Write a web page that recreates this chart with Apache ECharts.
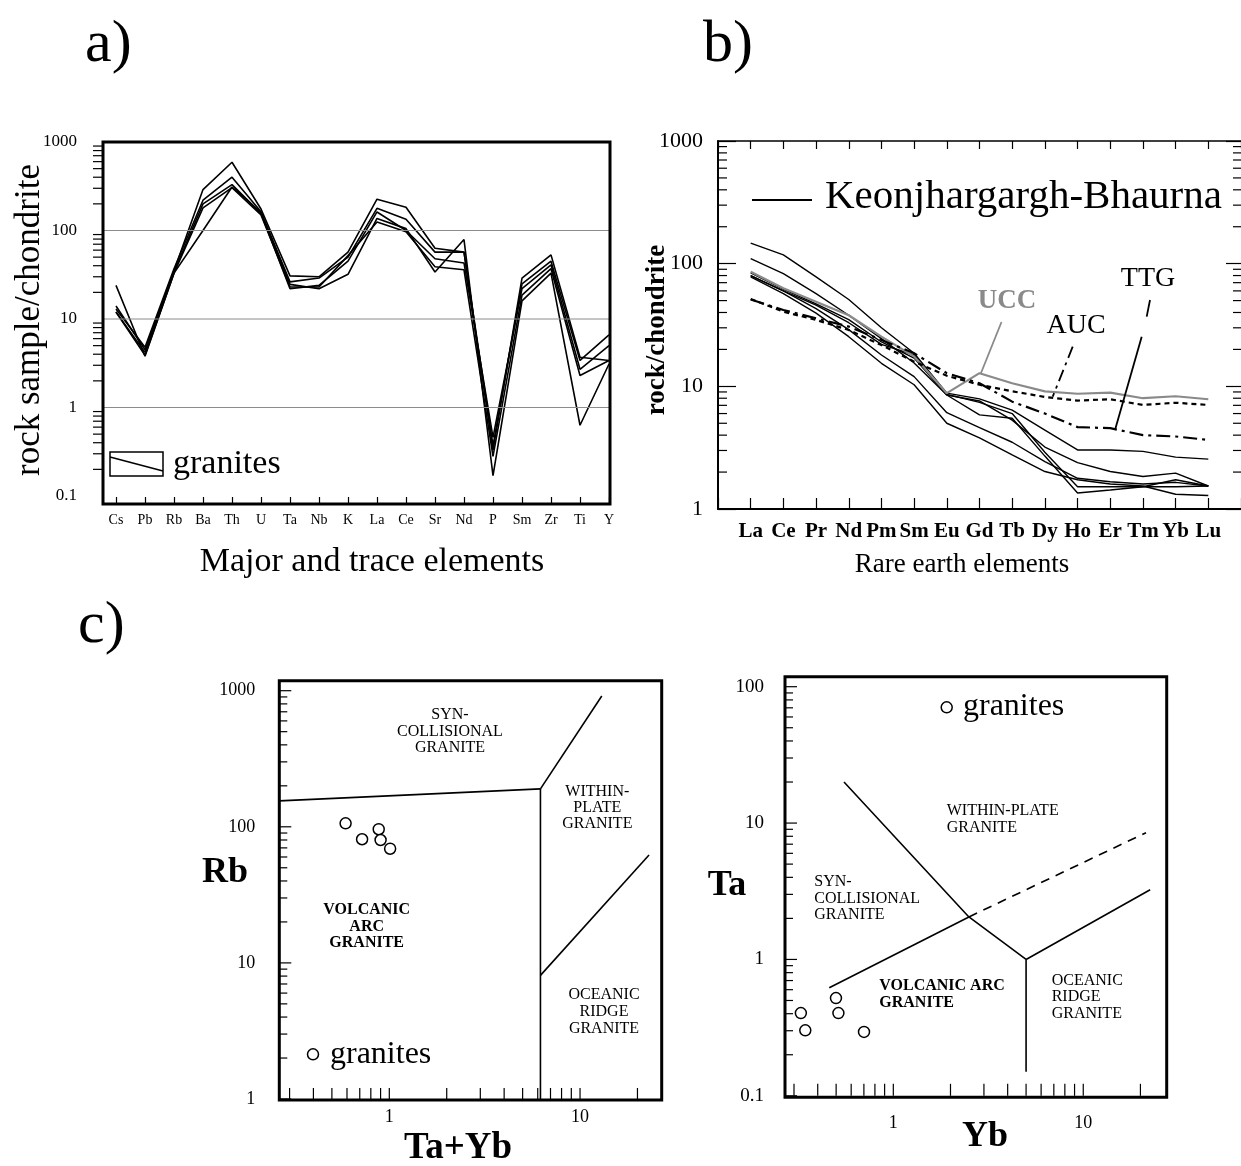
<!DOCTYPE html>
<html>
<head>
<meta charset="utf-8">
<script src="https://cdn.jsdelivr.net/npm/echarts@6.0.0/dist/echarts.min.js"></script>
<style>
  html, body { margin: 0; padding: 0; background: #fff; }
  #main { width: 1241px; height: 1166px; }
</style>
</head>
<body>
<div id="main"></div>
<script>
// ---- a) spider diagram, major and trace elements
const ELEMENTS = ['Cs', 'Pb', 'Rb', 'Ba', 'Th', 'U', 'Ta', 'Nb', 'K', 'La', 'Ce', 'Sr', 'Nd', 'P', 'Sm', 'Zr', 'Ti', 'Y'];
const GRANITE_1 = [14, 4.5, 35, 290, 590, 175, 30.7, 30, 57, 226, 183, 63, 57, 0.33, 29, 53, 3.7, 3.4];
const GRANITE_2 = [24, 3.8, 33, 100, 310, 160, 24.6, 22, 32, 137, 105, 34, 79, 0.17, 16, 33, 0.63, 3.1];
const GRANITE_3 = [13, 4.8, 37, 220, 400, 163, 26.3, 29, 50, 178, 134, 57, 57, 0.37, 25, 45, 3.4, 6.6];
const GRANITE_4 = [12, 4.2, 34, 200, 330, 156, 22, 24, 45, 162, 100, 48, 43, 0.46, 22, 41, 2.7, 5.0];
const GRANITE_5 = [12, 3.9, 33, 180, 305, 150, 23, 23, 52, 125, 97, 39, 36, 0.28, 18.6, 37, 2.3, 3.4];

// ---- b) REE patterns
const REE = ['La', 'Ce', 'Pr', 'Nd', 'Pm', 'Sm', 'Eu', 'Gd', 'Tb', 'Dy', 'Ho', 'Er', 'Tm', 'Yb', 'Lu'];
const KB_1 = [147, 118, 78, 51, 30, 18.6, 8.8, 7.9, 6.4, 4.4, 3.03, 3.03, 2.95, 2.65, 2.55];
const KB_2 = [110, 83, 57, 38, 24.5, 15.5, 8.5, 7.6, 5.3, 3.2, 2.39, 2.02, 1.84, 1.96, 1.54];
const KB_3 = [84, 62, 47, 35, 23, 17, 8.5, 5.85, 5.5, 2.7, 1.35, 1.43, 1.52, 1.73, 1.54];
const KB_4 = [80, 60, 46, 33, 22, 18, 8.6, 7.4, 6.0, 2.9, 1.52, 1.52, 1.52, 1.52, 1.54];
const KB_5 = [80, 60, 43, 29, 18, 12, 6.1, 4.6, 3.5, 2.43, 1.78, 1.67, 1.6, 1.65, 1.54];
const KB_6 = [78, 57, 39.5, 25.4, 15.4, 10.3, 5.0, 3.8, 2.76, 2.02, 1.73, 1.6, 1.54, 1.32, 1.29];
const UCC = [86, 63, 49, 38, 25.4, 17.5, 8.8, 12.8, 10.6, 9.1, 8.7, 8.9, 8.0, 8.3, 7.85];
const AUC = [51.5, 40.6, 34.8, 28.8, 21.7, 15.9, 12.2, 10.3, 9.1, 8.2, 7.65, 7.85, 7.05, 7.35, 7.05];
const TTG = [51, 41.9, 35.9, 30.7, 23.9, 18.6, 12.8, 10.6, 7.5, 6.0, 4.65, 4.56, 4.0, 3.9, 3.66];

// ---- c) discrimination diagrams (Pearce et al.)
const TA_PLUS_YB = [0.59, 0.72, 0.88, 0.90, 1.01];
const RB = [106, 81, 96, 80, 69];
const RB_SYNCOL_VAG = [[0.265, 155], [6.2, 190]];
const RB_SYNCOL_WPG = [[6.2, 190], [13, 915]];
const RB_VAG_ORG = [[6.2, 1], [6.2, 190]];
const RB_WPG_ORG = [[6.2, 8.1], [23, 62]];

const YB = [0.326, 0.344, 0.499, 0.514, 0.701];
const TA = [0.404, 0.302, 0.521, 0.404, 0.294];
const TA_WPG = [[0.55, 20], [2.5, 2.05], [5, 1]];
const TA_SYN_VAG = [[0.46, 0.62], [2.5, 2.05]];
const TA_DASHED = [[2.5, 2.05], [21.4, 8.5]];
const TA_WPG_ORG = [[5, 1], [22.5, 3.24]];
const TA_VAG_ORG = [[5, 1], [5, 0.15]];

const FONT = '"Liberation Serif", "Times New Roman", serif';

// every m*10^k inside [lo, hi]
function logTicks(lo, hi) {
  const out = [];
  for (let k = -2; k <= 3; k++) {
    for (let m = 1; m <= 9; m++) {
      const v = +(m * Math.pow(10, k)).toPrecision(6);
      if (v >= lo * 0.999 && v <= hi * 1.001) out.push(v);
    }
  }
  return out;
}
const isMajor = v => Math.abs(Math.log10(v) - Math.round(Math.log10(v))) < 1e-6;
const minorOf = (lo, hi) => logTicks(lo, hi).filter(v => !isMajor(v));
const majorOf = (lo, hi) => logTicks(lo, hi).filter(isMajor);
const powLabel = v => isMajor(v) ? String(+(+v).toPrecision(6)) : '';

// horizontal marks (y ticks / grid lines) drawn through the axis scale
function hMarks(xi, yi, xRef, vals, xs, color, width) {
  return {
    type: 'custom', xAxisIndex: xi, yAxisIndex: yi, silent: true, clip: false, z: 4,
    data: vals.map(v => [xRef, v]),
    renderItem: function (params, api) {
      const cs = params.coordSys;
      const y = api.coord([api.value(0), api.value(1)])[1];
      const r = xs(cs);
      return { type: 'line', shape: { x1: r[0], y1: y, x2: r[1], y2: y },
        style: { stroke: color || '#000', lineWidth: width || 1.2 } };
    }
  };
}
// vertical ticks at the bottom of a grid
function vMarks(xi, yi, yRef, vals, len) {
  return {
    type: 'custom', xAxisIndex: xi, yAxisIndex: yi, silent: true, clip: false, z: 4,
    data: vals.map(v => [v, yRef]),
    renderItem: function (params, api) {
      const cs = params.coordSys;
      const x = api.coord([api.value(0), api.value(1)])[0];
      const yb = cs.y + cs.height;
      return { type: 'line', shape: { x1: x, y1: yb, x2: x, y2: yb - len },
        style: { stroke: '#000', lineWidth: 1.2 } };
    }
  };
}

function txt(x, y, text, size, o) {
  o = o || {};
  const al = o.align || 'center';
  return {
    type: 'text', x: x, y: y, rotation: o.rotation || 0, z: 100, silent: true,
    style: {
      text: text, fill: o.color || '#000',
      font: (o.bold ? 'bold ' : '') + size + 'px ' + FONT,
      textAlign: al, align: al, textVerticalAlign: 'middle', verticalAlign: 'middle',
      lineHeight: o.lh || size
    }
  };
}
function ln(x1, y1, x2, y2, o) {
  o = o || {};
  return { type: 'line', z: 100, silent: true, shape: { x1: x1, y1: y1, x2: x2, y2: y2 },
    style: { stroke: o.color || '#000', lineWidth: o.width || 1.5, lineDash: o.dash || null } };
}
function frame(x, y, w, h, lw) {
  return { type: 'rect', z: 100, silent: true, shape: { x: x, y: y, width: w, height: h },
    style: { fill: 'none', stroke: '#000', lineWidth: lw || 3 } };
}
function ring(cx, cy) {
  return { type: 'circle', z: 100, silent: true, shape: { cx: cx, cy: cy, r: 5.5 },
    style: { fill: '#fff', stroke: '#000', lineWidth: 1.5 } };
}

const label = (size, extra) => Object.assign({ color: '#000', fontFamily: FONT, fontSize: size }, extra || {});
const tickStyle = { color: '#000', width: 1.2 };
const off = { show: false };

const chart = echarts.init(document.getElementById('main'), null, { renderer: 'canvas' });

const lineA = (d) => ({
  type: 'line', xAxisIndex: 0, yAxisIndex: 0, data: d, showSymbol: false, silent: true,
  lineStyle: { color: '#000', width: 1.6 }
});
const lineB = (d, color, width, dash) => ({
  type: 'line', xAxisIndex: 1, yAxisIndex: 1, data: d.map((v, i) => [i, v]),
  showSymbol: false, silent: true, lineStyle: { color: color, width: width, type: dash || 'solid' }
});
const lineC = (xi, d, dash) => ({
  type: 'line', xAxisIndex: xi, yAxisIndex: xi, data: d, showSymbol: false, silent: true,
  lineStyle: { color: '#000', width: 1.6, type: dash || 'solid' }
});
const dots = (xi, xs, ys) => ({
  type: 'scatter', xAxisIndex: xi, yAxisIndex: xi, silent: true, symbol: 'circle', symbolSize: 11,
  data: xs.map((x, i) => [x, ys[i]]),
  itemStyle: { color: '#fff', borderColor: '#000', borderWidth: 1.5, opacity: 1 }
});

const option = {
  animation: false,
  backgroundColor: '#fff',
  grid: [
    { left: 116, top: 142, width: 493, height: 354, containLabel: false, outerBoundsMode: 'none' },
    { left: 718, top: 141, width: 523, height: 368, containLabel: false, outerBoundsMode: 'none' },
    { left: 279.3, top: 690.7, width: 382.4, height: 408.3, containLabel: false, outerBoundsMode: 'none' },
    { left: 785, top: 686.7, width: 381.7, height: 409.1, containLabel: false, outerBoundsMode: 'none' }
  ],
  xAxis: [
    { gridIndex: 0, type: 'category', data: ELEMENTS, boundaryGap: false, offset: 8,
      axisLine: { show: false, onZero: false },
      axisTick: { inside: true, length: 7, interval: 0, lineStyle: tickStyle },
      axisLabel: label(14, { interval: 0, margin: 9 }), splitLine: off },
    { gridIndex: 1, type: 'value', min: -1, max: 15, interval: 1,
      axisLine: { onZero: false, lineStyle: { color: '#000', width: 2 } },
      axisTick: { inside: true, length: 11, lineStyle: tickStyle },
      axisLabel: label(21, { fontWeight: 'bold', margin: 12, formatter: v => REE[v] || '' }),
      splitLine: off },
    { gridIndex: 1, type: 'value', position: 'top', min: -1, max: 15, interval: 1,
      axisLine: { onZero: false, lineStyle: { color: '#000', width: 1.5 } },
      axisTick: { inside: true, length: 8, lineStyle: tickStyle },
      axisLabel: off, splitLine: off },
    { gridIndex: 2, type: 'log', min: 0.265, max: 26.8,
      axisLine: { show: false, onZero: false }, axisTick: off,
      axisLabel: label(18, { margin: 9, formatter: powLabel }), splitLine: off },
    { gridIndex: 3, type: 'log', min: 0.269, max: 27.5,
      axisLine: { show: false, onZero: false }, axisTick: off,
      axisLabel: label(18, { margin: 18, formatter: powLabel }), splitLine: off }
  ],
  yAxis: [
    { gridIndex: 0, type: 'log', min: 0.1, max: 1000, offset: 13,
      axisLine: { show: false, onZero: false },
      axisTick: { length: 20, lineStyle: tickStyle },
      axisLabel: label(17, { margin: 26, formatter: powLabel }), splitLine: off },
    { gridIndex: 1, type: 'log', min: 1, max: 1000,
      axisLine: { onZero: false, lineStyle: { color: '#000', width: 2 } },
      axisTick: { inside: true, length: 18, lineStyle: tickStyle },
      axisLabel: label(22, { margin: 15, formatter: powLabel }), splitLine: off },
    { gridIndex: 1, type: 'log', min: 1, max: 1000, position: 'right',
      axisLine: { show: false, onZero: false },
      axisTick: { inside: true, length: 15, lineStyle: tickStyle },
      axisLabel: off, splitLine: off },
    { gridIndex: 2, type: 'log', min: 1, max: 1000,
      axisLine: { show: false, onZero: false }, axisTick: off,
      axisLabel: label(18, { margin: 24, formatter: powLabel }), splitLine: off },
    { gridIndex: 3, type: 'log', min: 0.1, max: 100,
      axisLine: { show: false, onZero: false }, axisTick: off,
      axisLabel: label(19, { margin: 21, formatter: powLabel }), splitLine: off }
  ],
  series: [
    // a)
    hMarks(0, 0, 0, [1, 10, 100], cs => [cs.x - 13, cs.x + cs.width + 1], '#8c8c8c', 1),
    hMarks(0, 0, 0, minorOf(0.1, 1000), cs => [cs.x - 23, cs.x - 13]),
    lineA(GRANITE_1), lineA(GRANITE_2), lineA(GRANITE_3), lineA(GRANITE_4), lineA(GRANITE_5),
    // b)
    hMarks(1, 1, 0, minorOf(1, 1000), cs => [cs.x, cs.x + 9]),
    hMarks(1, 1, 0, minorOf(1, 1000), cs => [cs.x + cs.width - 8, cs.x + cs.width]),
    lineB(KB_1, '#000', 1.4), lineB(KB_2, '#000', 1.4), lineB(KB_3, '#000', 1.4),
    lineB(KB_4, '#000', 1.4), lineB(KB_5, '#000', 1.4), lineB(KB_6, '#000', 1.4),
    lineB(UCC, '#8a8a8a', 2.2),
    lineB(AUC, '#000', 2.2, [5, 4]),
    lineB(TTG, '#000', 2.2, [14, 5, 3, 5]),
    // c) left
    hMarks(3, 3, 1, majorOf(1, 1000), cs => [cs.x, cs.x + 12]),
    hMarks(3, 3, 1, minorOf(1, 1000), cs => [cs.x, cs.x + 8]),
    vMarks(3, 3, 1, logTicks(0.3, 20), 11),
    lineC(3, RB_SYNCOL_VAG), lineC(3, RB_SYNCOL_WPG), lineC(3, RB_VAG_ORG), lineC(3, RB_WPG_ORG),
    dots(3, TA_PLUS_YB, RB),
    // c) right
    hMarks(4, 4, 1, majorOf(0.1, 100), cs => [cs.x, cs.x + 12]),
    hMarks(4, 4, 1, minorOf(0.1, 100), cs => [cs.x, cs.x + 8]),
    vMarks(4, 4, 1, logTicks(0.3, 20), 12),
    lineC(4, TA_WPG), lineC(4, TA_SYN_VAG), lineC(4, TA_DASHED, [9, 7]),
    lineC(4, TA_WPG_ORG), lineC(4, TA_VAG_ORG),
    dots(4, YB, TA)
  ],
  graphic: { elements: [
    // panel letters
    txt(85, 45.5, 'a)', 60, { align: 'left' }),
    txt(703, 45.5, 'b)', 60, { align: 'left' }),
    txt(78, 626, 'c)', 60, { align: 'left' }),

    // a)
    frame(103, 142, 507, 362, 3),
    { type: 'rect', z: 100, silent: true, shape: { x: 110, y: 452, width: 53, height: 24 },
      style: { fill: 'none', stroke: '#000', lineWidth: 1.5 } },
    ln(110, 457, 163, 471),
    txt(173, 464, 'granites', 34, { align: 'left' }),
    txt(30, 320, 'rock sample/chondrite', 35, { rotation: Math.PI / 2 }),
    txt(372, 562, 'Major and trace elements', 34),

    // b)
    ln(752, 200, 812, 200, { width: 2 }),
    txt(825, 197, 'Keonjhargargh-Bhaurna', 41, { align: 'left' }),
    txt(657, 330, 'rock/chondrite', 27, { bold: true, rotation: Math.PI / 2 }),
    txt(962, 565, 'Rare earth elements', 27),
    txt(1007, 300.8, 'UCC', 27, { bold: true, color: '#8a8a8a' }),
    ln(1001.5, 322, 981, 373, { color: '#8a8a8a', width: 1.8 }),
    txt(1076, 325.6, 'AUC', 28),
    ln(1072.7, 346.7, 1052.7, 396.7, { width: 1.8, dash: [12, 5, 3, 5] }),
    txt(1148, 279, 'TTG', 28),
    ln(1150, 300, 1146.7, 316.7, { width: 1.8 }),
    ln(1141.7, 336.7, 1115, 430, { width: 1.8 }),

    // c) left
    frame(279.3, 680.7, 382.4, 419.3, 3),
    txt(450, 731.5, 'SYN-\nCOLLISIONAL\nGRANITE', 16, { lh: 16.3 }),
    txt(597.3, 807.8, 'WITHIN-\nPLATE\nGRANITE', 16, { lh: 16.3 }),
    txt(366.7, 926.5, 'VOLCANIC\nARC\nGRANITE', 16, { bold: true, lh: 16.4 }),
    txt(604, 1011.7, 'OCEANIC\nRIDGE\nGRANITE', 16, { lh: 16.6 }),
    ring(313, 1054.3),
    txt(330, 1055, 'granites', 32, { align: 'left' }),
    txt(225, 873, 'Rb', 36, { bold: true }),
    txt(458, 1148.3, 'Ta+Yb', 37, { bold: true }),

    // c) right
    frame(785, 676.7, 381.7, 420.6, 3),
    txt(946.7, 819.2, 'WITHIN-PLATE\nGRANITE', 16, { align: 'left', lh: 16.5 }),
    txt(814.3, 898.3, 'SYN-\nCOLLISIONAL\nGRANITE', 16, { align: 'left', lh: 16.6 }),
    txt(879.3, 994.3, 'VOLCANIC ARC\nGRANITE', 16, { align: 'left', bold: true, lh: 16.7 }),
    txt(1051.7, 997.2, 'OCEANIC\nRIDGE\nGRANITE', 16, { align: 'left', lh: 16.3 }),
    ring(946.7, 707.3),
    txt(963, 707, 'granites', 32, { align: 'left' }),
    txt(727, 886, 'Ta', 36, { bold: true }),
    txt(985, 1137, 'Yb', 36, { bold: true })
  ] }
};

chart.setOption(option);
window.onresize = () => { chart.resize(); };
</script>
</body>
</html>
